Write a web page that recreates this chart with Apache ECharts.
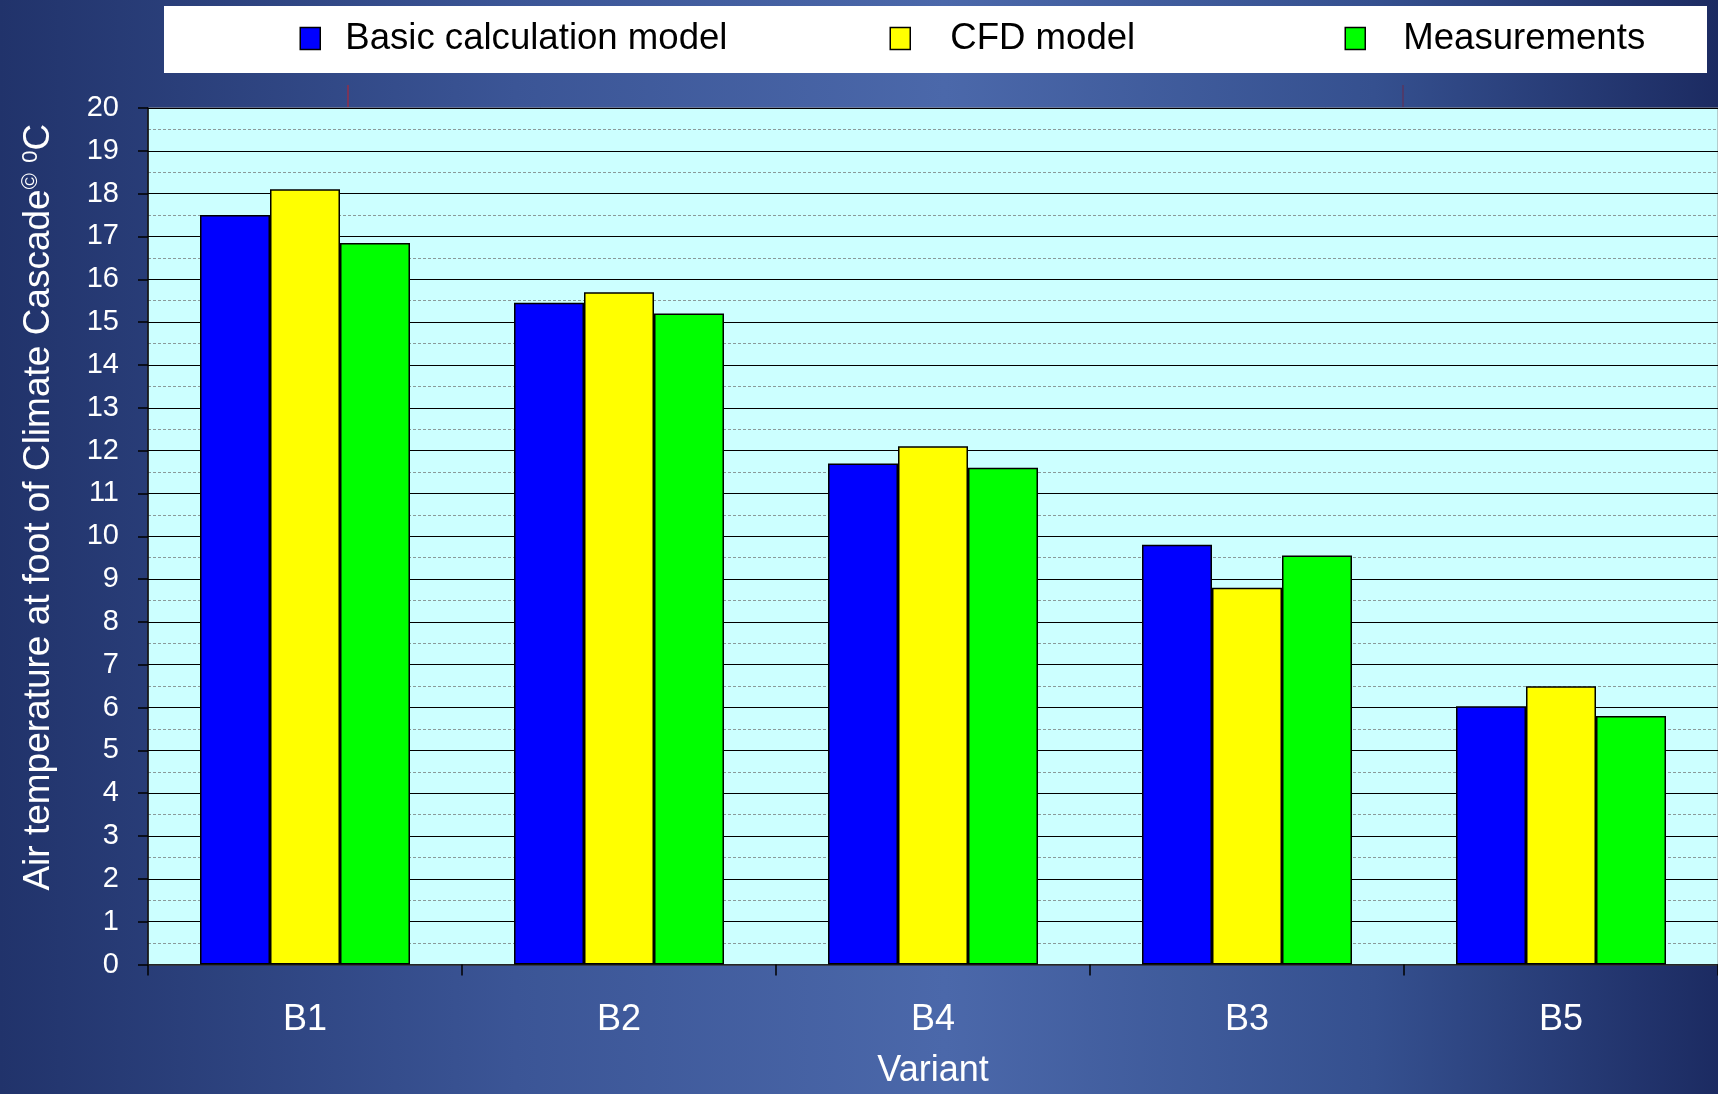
<!DOCTYPE html>
<html>
<head>
<meta charset="utf-8">
<script src="https://cdn.jsdelivr.net/npm/echarts@6/dist/echarts.min.js"></script>
<style>
  html, body { margin: 0; padding: 0; width: 1718px; height: 1094px; overflow: hidden; }
  #chart { width: 1718px; height: 1094px; }
</style>
</head>
<body>
<div id="chart"></div>
<script>
const categories = ['B1', 'B2', 'B4', 'B3', 'B5'];
const basicModel = [17.5, 15.45, 11.7, 9.8, 6.03];
const cfdModel = [18.1, 15.7, 12.1, 8.8, 6.5];
const measurements = [16.85, 15.2, 11.6, 9.55, 5.8];
const seriesNames = ['Basic calculation model', 'CFD model', 'Measurements'];
const seriesColors = ['#0000FF', '#FFFF00', '#00FF00'];

const FONT = "'Liberation Sans', Arial, sans-serif";
const chart = echarts.init(document.getElementById('chart'), null, { renderer: 'canvas' });

function legendFor(i, left, pad) {
  return {
    data: [seriesNames[i]],
    left: left,
    top: 15,
    icon: 'rect',
    itemWidth: 20,
    itemHeight: 22,
    itemStyle: { borderColor: '#000', borderWidth: 1.5 },
    selectedMode: false,
    textStyle: { color: '#000', fontSize: 36.6, fontFamily: FONT, padding: [0, 0, 0, pad] }
  };
}

const barStyle = (c) => ({ color: c, borderColor: '#000', borderWidth: 1.5 });

chart.setOption({
  backgroundColor: {
    type: 'linear', x: 0, y: 0, x2: 1, y2: 0,
    colorStops: [
      { offset: 0, color: '#21336b' },
      { offset: 0.3, color: '#3b5596' },
      { offset: 0.55, color: '#4b68aa' },
      { offset: 0.8, color: '#35508f' },
      { offset: 1, color: '#1c2b62' }
    ]
  },
  graphic: [
    {
      type: 'rect', left: 164, top: 6, z: -1,
      shape: { width: 1543, height: 67 },
      style: { fill: '#ffffff' }
    },
    {
      type: 'line', z: 1,
      shape: { x1: 348, y1: 85, x2: 348, y2: 107 },
      style: { stroke: '#c0202a', lineWidth: 1 }
    },
    {
      type: 'line', z: 1,
      shape: { x1: 1403, y1: 85, x2: 1403, y2: 107 },
      style: { stroke: '#6a2a4a', lineWidth: 1 }
    }
  ],
  legend: [
    legendFor(0, 294.5, 20),
    legendFor(1, 884.5, 35),
    legendFor(2, 1339.5, 33)
  ],
  grid: {
    left: 148, top: 108, right: -5, bottom: 122.3,
    show: true, backgroundColor: '#CCFFFF', borderColor: '#9a9a9a', borderWidth: 1,
    containLabel: false
  },
  xAxis: {
    type: 'category',
    data: categories,
    name: 'Variant',
    nameLocation: 'middle',
    nameGap: 88.5,
    nameTextStyle: { color: '#fff', fontSize: 36, fontFamily: FONT },
    axisLine: { show: true, lineStyle: { color: '#333', width: 1.5 } },
    axisTick: { show: true, length: 11, lineStyle: { color: '#000', width: 1.5 } },
    axisLabel: { color: '#fff', fontSize: 36, fontFamily: FONT, margin: 38 },
    splitLine: { show: false }
  },
  yAxis: {
    type: 'value',
    min: 0, max: 20, interval: 1,
    name: '{a|Air temperature at foot of Climate Cascade}{s|©}{a| }{s|0}{a|C}',
    nameLocation: 'middle',
    nameGap: 91,
    nameRotate: 90,
    nameTextStyle: {
      color: '#fff', fontSize: 37, fontFamily: FONT,
      padding: [0, 0, 0, 58],
      rich: {
        a: { color: '#fff', fontSize: 37, fontFamily: FONT },
        s: { color: '#fff', fontSize: 22, fontFamily: FONT, verticalAlign: 'top' }
      }
    },
    axisLine: { show: true, lineStyle: { color: '#000', width: 1.5 } },
    axisTick: { show: true, length: 10, lineStyle: { color: '#000', width: 1.5 } },
    axisLabel: { color: '#fff', fontSize: 29, fontFamily: FONT, margin: 29 },
    splitLine: { show: true, lineStyle: { color: '#000', width: 1.2 } },
    minorTick: { show: false, splitNumber: 2 },
    minorSplitLine: { show: true, lineStyle: { color: '#8a9a9a', width: 1, type: [3, 2] } }
  },
  series: [
    { name: seriesNames[0], type: 'bar', data: basicModel, barWidth: 70, barGap: '0%', itemStyle: barStyle(seriesColors[0]) },
    { name: seriesNames[1], type: 'bar', data: cfdModel, barWidth: 70, barGap: '0%', itemStyle: barStyle(seriesColors[1]) },
    { name: seriesNames[2], type: 'bar', data: measurements, barWidth: 70, barGap: '0%', itemStyle: barStyle(seriesColors[2]) }
  ],
  animation: false
});
</script>
</body>
</html>
